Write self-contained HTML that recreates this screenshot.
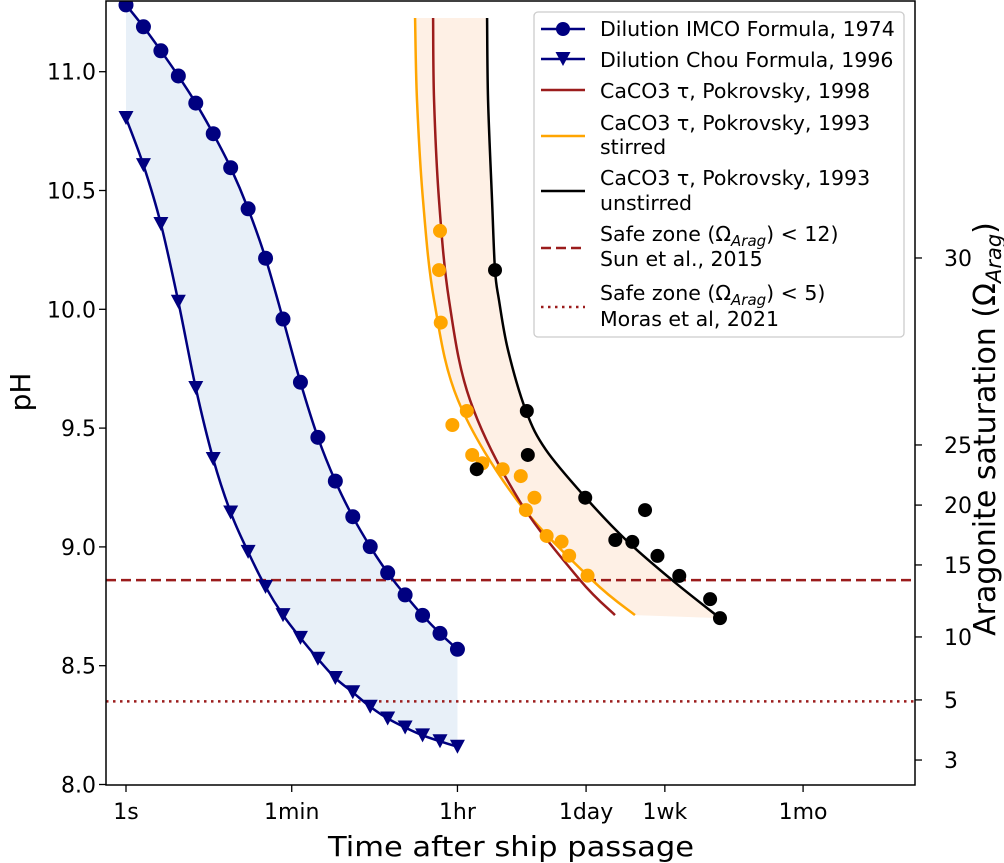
<!DOCTYPE html>
<html><head><meta charset="utf-8"><style>
html,body{margin:0;padding:0;background:#fff;}
svg{display:block;font-family:"DejaVu Sans","Liberation Sans",sans-serif;}
</style></head><body>
<svg id="chart" width="1004" height="863" viewBox="0 0 1004 863" xmlns="http://www.w3.org/2000/svg"></svg>
<script>
// ---- data ----
const dilutionPoints = 20; // equally log-spaced from 1 s to 1 hr
const imcoPH = [11.281,11.189,11.088,10.982,10.868,10.739,10.596,10.423,10.215,9.959,9.693,9.461,9.277,9.127,9.001,8.891,8.798,8.712,8.636,8.569];
const chouPH = [10.805,10.607,10.359,10.032,9.669,9.370,9.145,8.979,8.832,8.713,8.617,8.529,8.448,8.388,8.327,8.278,8.240,8.207,8.182,8.159];
const curvePH = [11.226,10.881,10.46,10.039,9.618,9.197,8.861,8.713];
const pok98Hours = [0.548,0.561,0.634,0.812,1.364,4.58,20.6,49.0];
const pokStirHours = [0.351,0.368,0.427,0.561,1.013,4.35,27.8,80.3];
const blackCurvePH = [11.226,10.881,10.46,10.165,10.039,9.828,9.572,9.408,9.21,9.029,8.861,8.70];
const pokUnstirHours = [2.08,2.13,2.35,2.53,2.79,3.49,5.44,8.91,23.4,64.4,200,656];
const stirredObsHours = [0.650,0.634,0.662,0.882,1.26,1.44,1.85,3.06,4.78,6.70,5.42,9.06,13.1,15.8,24.9];
const stirredObsPH = [10.330,10.165,9.944,9.513,9.572,9.387,9.352,9.327,9.298,9.207,9.155,9.046,9.022,8.963,8.879];
const unstirObsHours = [2.53,5.55,5.69,1.61,23.5,103,49.4,75.2,140,240,514,656];
const unstirObsPH = [10.165,9.572,9.387,9.327,9.207,9.155,9.029,9.021,8.962,8.878,8.780,8.700];
const safeSunPH = 8.86;
const safeMorasPH = 8.35;
const xTickSeconds = [1,60,3600,86400,604800,18400000];
const xTickLabels = ["1s","1min","1hr","1day","1wk","1mo"];
const yTicks = [8.0,8.5,9.0,9.5,10.0,10.5,11.0];
const omegaTicks = [30,25,20,15,10,5,3];
const omegaTickPH = [10.216,9.429,9.176,8.924,8.621,8.356,8.103];

// ---- axes ----
const L=106,R=915,T=1,B=785;
const X = s => 126 + 93.2*Math.log10(s);
const Y = p => 71.7 + (11 - p)*237.6;
const NS="http://www.w3.org/2000/svg";
const svg=document.getElementById('chart');
function mk(tag,attrs,parent){const e=document.createElementNS(NS,tag);for(const k in attrs)e.setAttribute(k,attrs[k]);(parent||svg).appendChild(e);return e;}
function smooth(pts,move){
  let d=(move?'M':'L')+pts[0][0]+','+pts[0][1];
  for(let i=0;i<pts.length-1;i++){
    const p0=pts[i-1]||pts[i],p1=pts[i],p2=pts[i+1],p3=pts[i+2]||p2;
    const c1=[p1[0]+(p2[0]-p0[0])/6,p1[1]+(p2[1]-p0[1])/6];
    const c2=[p2[0]-(p3[0]-p1[0])/6,p2[1]-(p3[1]-p1[1])/6];
    d+='C'+c1[0]+','+c1[1]+' '+c2[0]+','+c2[1]+' '+p2[0]+','+p2[1];
  }
  return d;
}
const clip=mk('clipPath',{id:'pc'});mk('rect',{x:L,y:T,width:R-L,height:B-T},clip);
const plot=mk('g',{'clip-path':'url(#pc)'});



const dilT=[];for(let i=0;i<dilutionPoints;i++)dilT.push(Math.pow(10,i*Math.log10(3600)/(dilutionPoints-1)));
const imcoPts=dilT.map((t,i)=>[X(t),Y(imcoPH[i])]);
const chouPts=dilT.map((t,i)=>[X(t),Y(chouPH[i])]);
const stirPts=pokStirHours.map((h,i)=>[X(h*3600),Y(curvePH[i])]);
const p98Pts=pok98Hours.map((h,i)=>[X(h*3600),Y(curvePH[i])]);
const unPts=pokUnstirHours.map((h,i)=>[X(h*3600),Y(blackCurvePH[i])]);

const bf=mk('path',{d:smooth(imcoPts,true)+smooth(chouPts.slice().reverse(),false)+'Z',fill:'#e8f0f8'},plot);


const of=mk('path',{d:smooth(stirPts,true)+smooth(unPts.slice().reverse(),false)+'Z',fill:'#fef0e5'},plot);



const l1=mk('line',{x1:L,x2:R,y1:Y(safeSunPH),y2:Y(safeSunPH),stroke:'#9b1c1c','stroke-width':2.5,'stroke-dasharray':'10,5'},plot);


const l2=mk('line',{x1:L,x2:R,y1:Y(safeMorasPH),y2:Y(safeMorasPH),stroke:'#9b1c1c','stroke-width':2.5,'stroke-dasharray':'2.5,4.5'},plot);



function curve(pts,color,name){
  const p=mk('path',{d:smooth(pts,true),fill:'none',stroke:color,'stroke-width':2.5},plot);
  
  
}
curve(stirPts,'#ffa500','pokrovsky-1993-stirred-line');
curve(p98Pts,'#9b1c1c','pokrovsky-1998-line');
curve(unPts,'#000','pokrovsky-1993-unstirred-line');

stirredObsHours.forEach((h,i)=>{
  const c=mk('circle',{cx:X(h*3600),cy:Y(stirredObsPH[i]),r:7,fill:'#ffa500'},plot);
  
  
});
unstirObsHours.forEach((h,i)=>{
  const c=mk('circle',{cx:X(h*3600),cy:Y(unstirObsPH[i]),r:7,fill:'#000'},plot);
  
  
});

curve(imcoPts,'#000080','imco-line');
curve(chouPts,'#000080','chou-line');
dilT.forEach((t,i)=>{
  const c=mk('circle',{cx:X(t),cy:Y(imcoPH[i]),r:7.5,fill:'#000080'},plot);
  
  
  const x=X(t),y=Y(chouPH[i]);
  const tr=mk('polygon',{points:`${x-7.5},${y-7} ${x+7.5},${y-7} ${x},${y+7}`,fill:'#000080'},plot);
  
  
});

const fr=mk('rect',{x:L,y:T,width:R-L,height:B-T,fill:'none',stroke:'#000','stroke-width':1.5});



xTickSeconds.forEach((s,i)=>{
  const x=X(s);
  mk('line',{x1:x,x2:x,y1:B,y2:B+7,stroke:'#000','stroke-width':1.3});
  const t=mk('text',{x:x,y:B+34,'font-size':22,'text-anchor':'middle'});
  t.textContent=xTickLabels[i];
  
  
});
yTicks.forEach(v=>{
  const y=Y(v);
  mk('line',{x1:L-7,x2:L,y1:y,y2:y,stroke:'#000','stroke-width':1.3});
  const t=mk('text',{x:L-10,y:y+8,'font-size':22,'text-anchor':'end'});
  t.textContent=v.toFixed(1);
  
  
});
omegaTicks.forEach((v,i)=>{
  const y=Y(omegaTickPH[i]);
  mk('line',{x1:R,x2:R+7,y1:y,y2:y,stroke:'#000','stroke-width':1.3});
  const t=mk('text',{x:R+29,y:y+8,'font-size':22,'text-anchor':'start'});
  t.textContent=String(v);
  
  
});
</script>
<svg style="position:absolute;left:0;top:0" width="1004" height="863" font-family="DejaVu Sans, Liberation Sans, sans-serif">
  <text x="511" y="856" font-size="28" text-anchor="middle" textLength="366" lengthAdjust="spacingAndGlyphs">Time after ship passage</text>
  <text transform="translate(30,392) rotate(-90)" font-size="28" text-anchor="middle">pH</text>
  <text transform="translate(995,429) rotate(-90)" font-size="30" text-anchor="middle">Aragonite saturation (Ω<tspan font-size="21" font-style="italic" dy="6">Arag</tspan><tspan dy="-6">)</tspan></text>
  <g font-size="20.5">
    <rect x="534" y="12" width="370" height="325" rx="4" fill="#fff" fill-opacity="0.85" stroke="#ccc" stroke-width="1.3"/>
    <g>
      <line x1="541" x2="585" y1="29" y2="29" stroke="#000080" stroke-width="2.5"/><circle cx="563" cy="29" r="7" fill="#000080"/>
      <text x="600" y="36">Dilution IMCO Formula, 1974</text></g>
    <g>
      <line x1="541" x2="585" y1="59" y2="59" stroke="#000080" stroke-width="2.5"/><polygon points="555.5,52 570.5,52 563,66" fill="#000080"/>
      <text x="600" y="67">Dilution Chou Formula, 1996</text></g>
    <g>
      <line x1="541" x2="585" y1="90" y2="90" stroke="#9b1c1c" stroke-width="2.5"/>
      <text x="600" y="98">CaCO3 τ, Pokrovsky, 1998</text></g>
    <g>
      <line x1="541" x2="585" y1="136" y2="136" stroke="#ffa500" stroke-width="2.5"/>
      <text x="600" y="130">CaCO3 τ, Pokrovsky, 1993</text><text x="600" y="154">stirred</text></g>
    <g>
      <line x1="541" x2="585" y1="191" y2="191" stroke="#000" stroke-width="2.5"/>
      <text x="600" y="185">CaCO3 τ, Pokrovsky, 1993</text><text x="600" y="210">unstirred</text></g>
    <g>
      <line x1="541" x2="585" y1="248" y2="248" stroke="#9b1c1c" stroke-width="2.5" stroke-dasharray="10,5"/>
      <text x="600" y="241">Safe zone (Ω<tspan font-size="15" font-style="italic" dy="5">Arag</tspan><tspan dy="-5">) &lt; 12)</tspan></text><text x="600" y="266">Sun et al., 2015</text></g>
    <g>
      <line x1="541" x2="585" y1="307" y2="307" stroke="#9b1c1c" stroke-width="2.5" stroke-dasharray="2.5,4.5"/>
      <text x="600" y="300">Safe zone (Ω<tspan font-size="15" font-style="italic" dy="5">Arag</tspan><tspan dy="-5">) &lt; 5)</tspan></text><text x="600" y="326">Moras et al, 2021</text></g>
  </g>
</svg>
</body></html>
